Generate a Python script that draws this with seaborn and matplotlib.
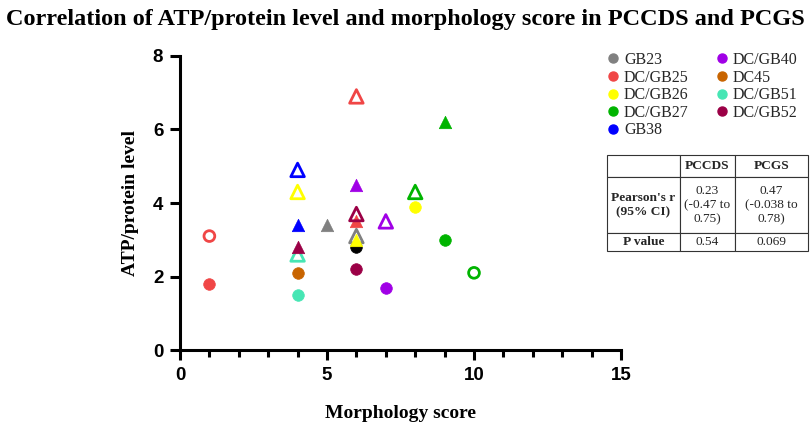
import matplotlib
matplotlib.use("Agg")
import matplotlib.pyplot as plt
from matplotlib.lines import Line2D
from matplotlib.ticker import MultipleLocator
import seaborn as sns
import pandas as pd

# legend groups and colours
groups = ["GB23", "DC/GB25", "DC/GB26", "DC/GB27", "GB38",
          "DC/GB40", "DC45", "DC/GB51", "DC/GB52"]
colors = ["#808080", "#f04646", "#ffff00", "#00b400", "#0000ff",
          "#a000e6", "#c86400", "#46e6b4", "#9b0046"]
palette = dict(zip(groups, colors))
palette["other"] = "#000000"

# points, in drawing order
point_group = ["DC/GB25", "DC/GB25", "DC/GB51", "DC45", "other", "DC/GB52",
               "DC/GB40", "DC/GB26", "DC/GB27", "DC/GB27",
               "DC/GB25", "GB38", "DC/GB26", "GB38", "DC/GB51", "DC/GB52",
               "GB23", "DC/GB40", "DC/GB25", "DC/GB52", "GB23", "DC/GB26",
               "DC/GB40", "DC/GB27", "DC/GB27"]
score = [1, 1, 4, 4, 6, 6, 7, 8, 9, 10,
         6, 4, 4, 4, 4, 4, 5, 6, 6, 6, 6, 6, 7, 8, 9]
level = [3.1, 1.8, 1.5, 2.1, 2.8, 2.2, 1.7, 3.9, 3.0, 2.1,
         6.9, 4.9, 4.3, 3.4, 2.6, 2.8, 3.4, 4.5, 3.5, 3.7, 3.1, 3.0, 3.5, 4.3, 6.2]
marker = ["o"] * 10 + ["^"] * 15
filled = [False, True, True, True, True, True, True, True, True, False,
          False, False, False, True, False, True, True, True, True, False,
          False, True, False, False, True]

# table text
col_labels = ["", "PCCDS", "PCGS"]
row_labels = ["Pearson's r\n(95% CI)", "P value"]
r_values = ["0.23\n(-0.47 to\n0.75)", "0.47\n(-0.038 to\n0.78)"]
p_values = ["0.54", "0.069"]

df = pd.DataFrame({"group": point_group, "score": score, "level": level,
                   "marker": marker, "filled": filled})

sns.set_style("ticks")
fig = plt.figure(figsize=(8.1, 4.28), dpi=100)
ax = fig.add_axes([0.2222, 0.1822, 0.5445, 0.6870])

for i, row in df.iterrows():
    c = palette[row["group"]]
    if row["filled"]:
        sns.scatterplot(x=[row["score"]], y=[row["level"]], ax=ax, marker=row["marker"],
                        color=c, edgecolor=c, s=70 if row["marker"] == "o" else 80,
                        linewidth=0.5, legend=False, zorder=3)
    else:
        sns.scatterplot(x=[row["score"]], y=[row["level"]], ax=ax, marker=row["marker"],
                        facecolor="none", edgecolor=c,
                        s=60 if row["marker"] == "o" else 95,
                        linewidth=2.0, legend=False, zorder=3)

ax.set_xlim(0, 15)
ax.set_ylim(0, 8)
ax.xaxis.set_major_locator(MultipleLocator(5))
ax.xaxis.set_minor_locator(MultipleLocator(1))
ax.yaxis.set_major_locator(MultipleLocator(2))
sns.despine(ax=ax)
for s in ["left", "bottom"]:
    ax.spines[s].set_linewidth(2.2)
    ax.spines[s].set_color("black")
ax.tick_params(which="major", width=2.2, length=7, labelsize=13.5, pad=5,
               color="black", labelcolor="black")
ax.tick_params(which="minor", width=2.2, length=5, color="black")
for lab in ax.get_xticklabels() + ax.get_yticklabels():
    lab.set_fontweight("bold")
    lab.set_fontfamily("Liberation Sans")

ax.set_xlabel("Morphology score", fontsize=14, fontweight="bold", color="black",
              fontfamily="Liberation Serif", labelpad=15)
ax.set_ylabel("ATP/protein level", fontsize=14, fontweight="bold", color="black",
              fontfamily="Liberation Serif", labelpad=10)

fig.text(0.5, 0.955, "Correlation of ATP/protein level and morphology score in PCCDS and PCGS",
         ha="center", va="center", fontsize=17.5, fontweight="bold", color="black",
         fontfamily="Liberation Serif")

handles = [Line2D([], [], marker="o", ls="", color=c, markersize=6.5) for c in colors]
fig.legend(handles, groups, ncol=2, loc="upper left", bbox_to_anchor=(0.728, 0.912),
           frameon=False, prop={"family": "Liberation Serif", "size": 11.5},
           handletextpad=0.15, columnspacing=1.5, labelspacing=0.1, handlelength=1.1)

# correlation table
tax = fig.add_axes([607 / 810, 1 - 251 / 428, 201 / 810, 96 / 428])
tax.axis("off")
cells = [col_labels,
         [row_labels[0], r_values[0], r_values[1]],
         [row_labels[1], p_values[0], p_values[1]]]
tbl = tax.table(cellText=cells, bbox=[0, 0, 1, 1], cellLoc="center")
tbl.auto_set_font_size(False)
widths = [73 / 201, 55 / 201, 73 / 201]
heights = [22 / 96, 56 / 96, 18 / 96]
for (r, c), cell in tbl.get_celld().items():
    cell.set_width(widths[c])
    cell.set_height(heights[r])
    cell.set_linewidth(0.8)
    cell.set_edgecolor("#333333")
    txt = cell.get_text()
    txt.set_fontfamily("Liberation Serif")
    txt.set_fontsize(9.6)
    txt.set_linespacing(1.2)
    if r == 0 or c == 0:
        txt.set_fontweight("bold")

fig.savefig("out.png", dpi=100)
